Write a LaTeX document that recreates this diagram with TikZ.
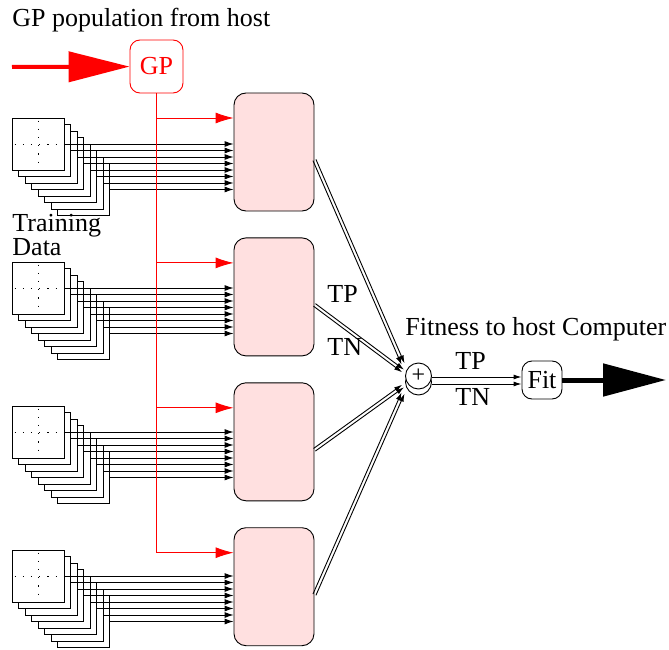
\documentclass[tikz,border=0pt]{standalone}
\usepackage{fontspec}
\setmainfont{Liberation Serif}
\newfontfamily\labelfont{Liberation Serif}
\usetikzlibrary{arrows.meta, calc, positioning}

\definecolor{boxpink}{RGB}{255,224,224}

\begin{document}
\begin{tikzpicture}[x=1pt, y=-1pt,
line width=0.9pt,
every node/.style = {font=\labelfont\fontsize{26}{20}\selectfont, inner sep=0pt},
proc/.style  = {draw, fill=boxpink, rounded corners=12pt,
                minimum width=80pt, minimum height=118pt},
slide/.style = {draw, fill=white, minimum size=52pt},
hub/.style   = {draw, circle, fill=white, minimum size=26pt,
                font=\labelfont\fontsize{24}{24}\selectfont},
redin/.style = {red, -{Latex[length=18pt, width=11pt]}},
feed/.style  = {-{Latex[length=9pt, width=6pt]}},
sumin/.style = {-{Latex[length=8pt, width=5pt]}},
                    ]
%---
\useasboundingbox (0,0) rectangle (669,650);

\node (b1) [proc] at (274,152) {};
\node (b2) [proc, below=26pt of b1] {};
\node (b3) [proc, below=26pt of b2] {};
\node (b4) [proc, below=26pt of b3] {};

% training images
\foreach \i in {1,...,4} {
    \foreach \k in {7,6,...,0}
        \node (s\i-\k) [slide] at ({38+6.5*\k}, {144*\i+6.5*\k}) {};
    \draw[dash pattern=on 1.2pt off 7pt, dash phase=-3pt]
        (s\i-0.north) -- (s\i-0.south)
        (s\i-0.west) -- (s\i-0.east);
    \foreach \k in {0,...,7}
        \draw[feed] (s\i-\k.east) -- (s\i-\k.east -| b\i.west);
}

\node (title) [anchor=base west] at (12,27) {GP population from host};
\node (train) [anchor=base west, align=left] at (12,255) {Training\\Data};

%---
\node (gp) [draw=red, text=red, rounded corners=10pt, minimum size=53pt]
      at (156.5,66.5) {GP};
\coordinate (src) at (12,67);
\draw[red, line width=4pt, -{Triangle[length=61pt, width=30pt]}] (src) -- (gp);

\foreach \i in {1,...,4}
    \coordinate (r\i) at ($(b\i.west)+(0,-34)$);
\draw[red] (gp.south) -- (gp.south |- r4);
\foreach \i in {1,...,4}
    \draw[redin] (gp.south |- r\i) -- (r\i);

%---
\node (sumback) [hub] at (418.5,382) {};
\node (sum) [hub] at (418.5,376) {+};
\node (fit) [draw, rounded corners=10pt, minimum width=40pt, minimum height=38pt]
      at (542,380) {Fit};
\coordinate (out) at (666,380);
\draw[line width=5pt, -{Triangle[length=63pt, width=32pt]}] (fit) -- (out);

\foreach \i/\o in {1/-12, 2/-5, 3/10, 4/17} {
    \coordinate (o\i) at ([yshift=-8pt]b\i.east);
    \coordinate (e\i) at ($(sum.west)+(-2,\o)$);
    \draw[sumin] ($(o\i)!1.6pt!90:(e\i)$) -- ($(e\i)!1.6pt!-90:(o\i)$);
    \draw[sumin] ($(o\i)!1.6pt!-90:(e\i)$) -- ($(e\i)!1.6pt!90:(o\i)$);
}
\draw[sumin] ([yshift=-1pt]sum.east) -- ([yshift=-1pt]sum.east -| fit.west);
\draw[sumin] ([yshift=-2pt]sumback.east) -- ([yshift=-2pt]sumback.east -| fit.west);

\node (tp1) [anchor=base west] at (327,302) {TP};
\node (tn1) [anchor=base west] at (327,355) {TN};
\node (tp2) [anchor=base west] at (455,369) {TP};
\node (tn2) [anchor=base west] at (455,405) {TN};
\node (fitness) [anchor=base west] at (405,335) {Fitness to host Computer};
\end{tikzpicture}
\end{document}
